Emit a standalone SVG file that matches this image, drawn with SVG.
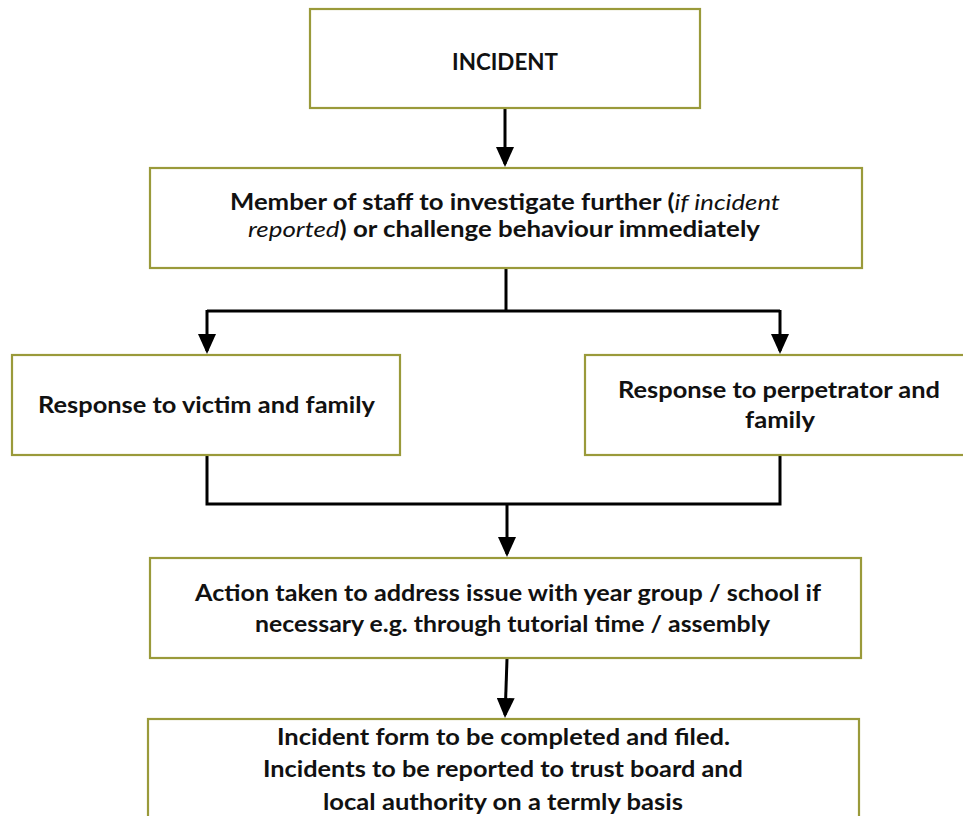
<svg xmlns="http://www.w3.org/2000/svg" width="963" height="816" viewBox="0 0 963 816">
<style>
.box{fill:#ffffff;stroke:#9a9a3a;stroke-width:2.2}
.t{font-family:Lato,"Open Sans","Liberation Sans",sans-serif;font-weight:bold;font-size:22px;fill:#111;text-anchor:middle}
.it{font-style:italic;font-weight:normal}
.c{fill:none;stroke:#000;stroke-width:3;stroke-linejoin:miter}
</style>
<defs>
<marker id="ah" viewBox="0 0 20 18" refX="17" refY="9" markerWidth="20" markerHeight="18" markerUnits="userSpaceOnUse" orient="auto">
<path d="M0,0 L20,9 L0,18 Z" fill="#000"/>
</marker>
</defs>
<rect width="963" height="816" fill="#fff"/>
<g id="connectors">
<path class="c" d="M505,108 V164" marker-end="url(#ah)"/>
<path class="c" d="M506,269 V311"/>
<path class="c" d="M207,311 H780"/>
<path class="c" d="M207,310 V351" marker-end="url(#ah)"/>
<path class="c" d="M780,310 V351" marker-end="url(#ah)"/>
<path class="c" d="M207,455 V504 H780 V455"/>
<path class="c" d="M507,504 V554" marker-end="url(#ah)"/>
<path class="c" d="M507,659 L505.1,715" marker-end="url(#ah)"/>
</g>
<g id="incident">
<rect class="box" x="310" y="9" width="390" height="99"/>
<text class="t" x="505" y="70" textLength="106" lengthAdjust="spacingAndGlyphs">INCIDENT</text>
</g>
<g id="investigate">
<rect class="box" x="150" y="168" width="712" height="100"/>
<text class="t" x="505" y="210" textLength="550" lengthAdjust="spacingAndGlyphs">Member of staff to investigate further (<tspan class="it">if incident</tspan></text>
<text class="t" x="504" y="237" textLength="512" lengthAdjust="spacingAndGlyphs"><tspan class="it">reported</tspan>) or challenge behaviour immediately</text>
</g>
<g id="victim">
<rect class="box" x="12" y="355" width="388" height="100"/>
<text class="t" x="206.5" y="413" textLength="337" lengthAdjust="spacingAndGlyphs">Response to victim and family</text>
</g>
<g id="perpetrator">
<rect class="box" x="585" y="355" width="388" height="100"/>
<text class="t" x="779" y="398" textLength="322" lengthAdjust="spacingAndGlyphs">Response to perpetrator and</text>
<text class="t" x="780" y="428" textLength="70" lengthAdjust="spacingAndGlyphs">family</text>
</g>
<g id="action">
<rect class="box" x="150" y="558" width="711" height="100"/>
<text class="t" x="508" y="601" textLength="626" lengthAdjust="spacingAndGlyphs">Action taken to address issue with year group / school if</text>
<text class="t" x="512.5" y="632" textLength="515" lengthAdjust="spacingAndGlyphs">necessary e.g. through tutorial time / assembly</text>
</g>
<g id="form">
<rect class="box" x="148" y="719" width="711" height="120"/>
<text class="t" x="503.5" y="745" textLength="453" lengthAdjust="spacingAndGlyphs">Incident form to be completed and filed.</text>
<text class="t" x="503" y="777" textLength="480" lengthAdjust="spacingAndGlyphs">Incidents to be reported to trust board and</text>
<text class="t" x="503" y="810" textLength="360" lengthAdjust="spacingAndGlyphs">local authority on a termly basis</text>
</g>
</svg>
